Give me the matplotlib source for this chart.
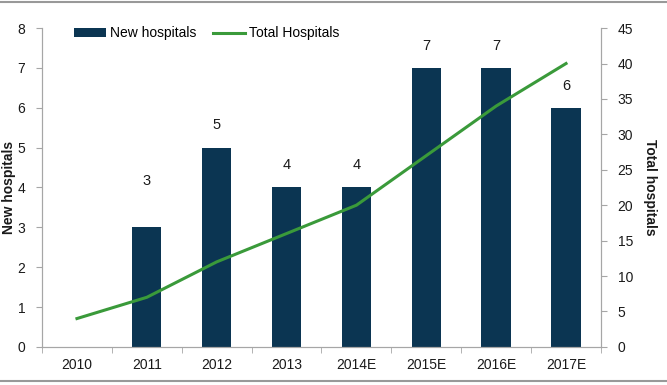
import matplotlib.pyplot as plt
from matplotlib.lines import Line2D
import numpy as np

years = ["2010", "2011", "2012", "2013", "2014E", "2015E", "2016E", "2017E"]
new_hospitals = [0, 3, 5, 4, 4, 7, 7, 6]
total_hospitals = [4, 7, 12, 16, 20, 27, 34, 40]

BAR_COLOR = "#0b3552"
LINE_COLOR = "#3a9a3a"
AXIS_COLOR = "#a6a6a6"
TEXT_COLOR = "#1a1a1a"

plt.rcParams["font.family"] = ["Liberation Sans", "DejaVu Sans"]
plt.rcParams["font.size"] = 10

fig = plt.figure(figsize=(6.67, 3.85), dpi=100)
ax = fig.add_axes([0.063, 0.099, 0.838, 0.828])
ax2 = ax.twinx()

x = np.arange(len(years))
bars = ax.bar(x, new_hospitals, width=0.42, color=BAR_COLOR, label="New hospitals", zorder=2)
# the 2011 label sits higher to clear the line
label_offset = {1: 28}
for i, (xi, v) in enumerate(zip(x, new_hospitals)):
    if v > 0:
        ax.annotate(str(v), (xi, v), textcoords="offset points", xytext=(0, label_offset.get(i, 11)),
                    ha="center", va="bottom", fontsize=10.5, color=TEXT_COLOR)

line, = ax2.plot(x, total_hospitals, color=LINE_COLOR, linewidth=2.2, label="Total Hospitals", zorder=3)

ax.set_xlim(-0.5, len(years) - 0.5)
ax.set_ylim(0, 8)
ax2.set_ylim(0, 45)
ax.set_yticks(range(0, 9))
ax2.set_yticks(range(0, 46, 5))
ax.set_xticks(x)
ax.set_xticklabels(years)
ax.set_xticks(np.arange(-0.5, len(years), 1), minor=True)
ax.tick_params(axis="x", which="major", length=0, pad=8, colors=TEXT_COLOR)
ax.tick_params(axis="x", which="minor", length=4, color=AXIS_COLOR, direction="out")
ax.tick_params(axis="y", length=4, color=AXIS_COLOR, labelcolor=TEXT_COLOR, pad=8)
ax2.tick_params(axis="y", length=4, color=AXIS_COLOR, labelcolor=TEXT_COLOR, pad=8)
for a in (ax, ax2):
    for s in a.spines.values():
        s.set_color(AXIS_COLOR)
    a.spines["top"].set_visible(False)

ax.set_ylabel("New hospitals", fontweight="bold", fontsize=10, color=TEXT_COLOR)
ax.yaxis.set_label_coords(-0.047, 0.5)
ax2.set_ylabel("Total hospitals", fontweight="bold", fontsize=10, rotation=270, color=TEXT_COLOR)
ax2.yaxis.set_label_coords(1.1, 0.5)

ax.legend([bars, line], ["New hospitals", "Total Hospitals"], loc="upper left",
          bbox_to_anchor=(0.035, 1.045), ncol=2, frameon=False, handlelength=2.3,
          handleheight=0.6, columnspacing=1.2, handletextpad=0.3, fontsize=10)

fig.add_artist(Line2D([0, 1], [0.995, 0.995], color="#999999", linewidth=1.5, transform=fig.transFigure))
fig.add_artist(Line2D([0, 1], [0.01, 0.01], color="#999999", linewidth=1.5, transform=fig.transFigure))

fig.savefig("out.png", dpi=100, facecolor="white")
